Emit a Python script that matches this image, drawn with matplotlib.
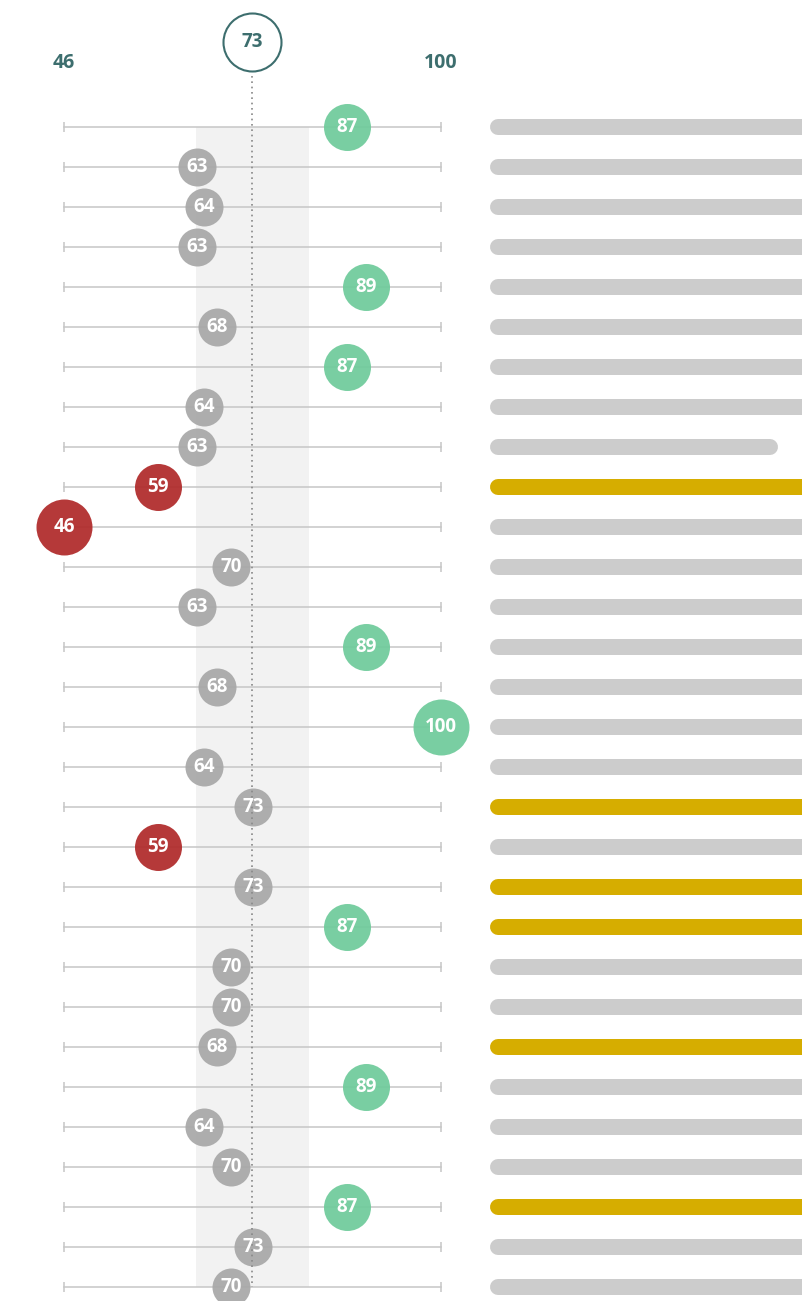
import matplotlib
matplotlib.use("Agg")
import matplotlib.pyplot as plt

# ---- data ----
labels = [87, 63, 64, 63, 89, 68, 87, 64, 63, 59, 46, 70, 63, 89, 68,
          100, 64, 73, 59, 73, 87, 70, 70, 68, 89, 64, 70, 87, 73, 70]
# plotted positions
positions = [86.6, 65.0, 66.0, 65.0, 89.3, 67.9, 86.6, 66.0, 65.0, 59.5, 46.0, 69.9, 65.0, 89.3, 67.9,
             100.0, 66.0, 73.1, 59.5, 73.1, 86.6, 69.9, 69.9, 67.9, 89.3, 66.0, 69.9, 86.6, 73.1, 69.9]
axis_min, axis_max = 46, 100
average = 73
band_lo, band_hi = 64.9, 81.1
bar_values = [110, 110, 110, 110, 110, 110, 110, 110, 89.2, 110, 110, 110, 110, 110, 110,
              110, 110, 110, 110, 110, 110, 110, 110, 110, 110, 110, 110, 110, 110, 110]
highlight = [False] * 30
for i in [9, 17, 19, 20, 23, 27]:
    highlight[i] = True

W, H = 803, 1301
fig = plt.figure(figsize=(W / 100, H / 100), dpi=100)
plt.rcParams['font.family'] = ['Open Sans', 'DejaVu Sans']

n = len(labels)
top_px, bot_px = 126.5, 1286.5
left_px, right_px = 64, 441
ax = fig.add_axes([left_px / W, 1 - bot_px / H, (right_px - left_px) / W, (bot_px - top_px) / H])
ax.set_xlim(axis_min, axis_max)
ax.set_ylim(n - 1, 0)
ax.axis('off')

teal = '#3d6e6e'
line_c = '#c6c6c6'

# band
ax.fill_between([band_lo, band_hi], 0, n - 1, color='#f2f2f2', zorder=0, linewidth=0)

# row lines
for i in range(n):
    ax.plot([axis_min, axis_max], [i, i], color=line_c, lw=1.1, zorder=1, clip_on=False)
    ax.plot([axis_min, axis_max], [i, i], linestyle='none', marker='|', ms=7,
            mew=1.1, color=line_c, zorder=1, clip_on=False)

# average dotted line
ax.plot([average, average], [-1.275, n - 1], color='#888888', lw=1.2,
        linestyle=(0, (1, 2.2)), zorder=3, clip_on=False)

# dots
for i, (lab, p) in enumerate(zip(labels, positions)):
    if p < band_lo:
        c = '#b02a2a'
    elif p > band_hi:
        c = '#6fcb9b'
    else:
        c = '#a8a8a8'
    dev = abs(lab - average)
    if c == '#a8a8a8':
        r = 19
    elif dev < 20:
        r = 23.5
    else:
        r = 28
    ax.scatter([p], [i], s=(2 * r * 0.72) ** 2, color=c, alpha=0.93,
               linewidths=0, zorder=2, clip_on=False)
    ax.text(p, i, str(lab), color='white', fontsize=13.5, fontweight='bold',
            ha='center', va='center', zorder=4, clip_on=False)

# top labels
lab_row = (63 - top_px) / 40
ax.text(axis_min, lab_row, str(axis_min), color=teal, fontsize=14, fontweight='bold',
        ha='center', va='center', clip_on=False)
ax.text(axis_max, lab_row, str(axis_max), color=teal, fontsize=14, fontweight='bold',
        ha='center', va='center', clip_on=False)
circ_row = (42 - top_px) / 40
ax.scatter([average], [circ_row], s=(2 * 29 * 0.72) ** 2, facecolor='white',
           edgecolor=teal, linewidths=1.5, zorder=5, clip_on=False)
ax.text(average, circ_row, str(average), color=teal, fontsize=13.5, fontweight='bold',
        ha='center', va='center', zorder=6, clip_on=False)

# bars
bar_left = 498
ax2 = fig.add_axes([bar_left / W, 1 - bot_px / H, (W - bar_left) / W, (bot_px - top_px) / H])
ax2.set_xlim(0, 100)
ax2.set_ylim(n - 1, 0)
ax2.axis('off')
for i, (v, h) in enumerate(zip(bar_values, highlight)):
    ax2.plot([0, v], [i, i], color='#d6ad00' if h else '#cccccc', lw=16 * 0.72,
             solid_capstyle='round', clip_on=False)

fig.savefig('out.png', dpi=100)
